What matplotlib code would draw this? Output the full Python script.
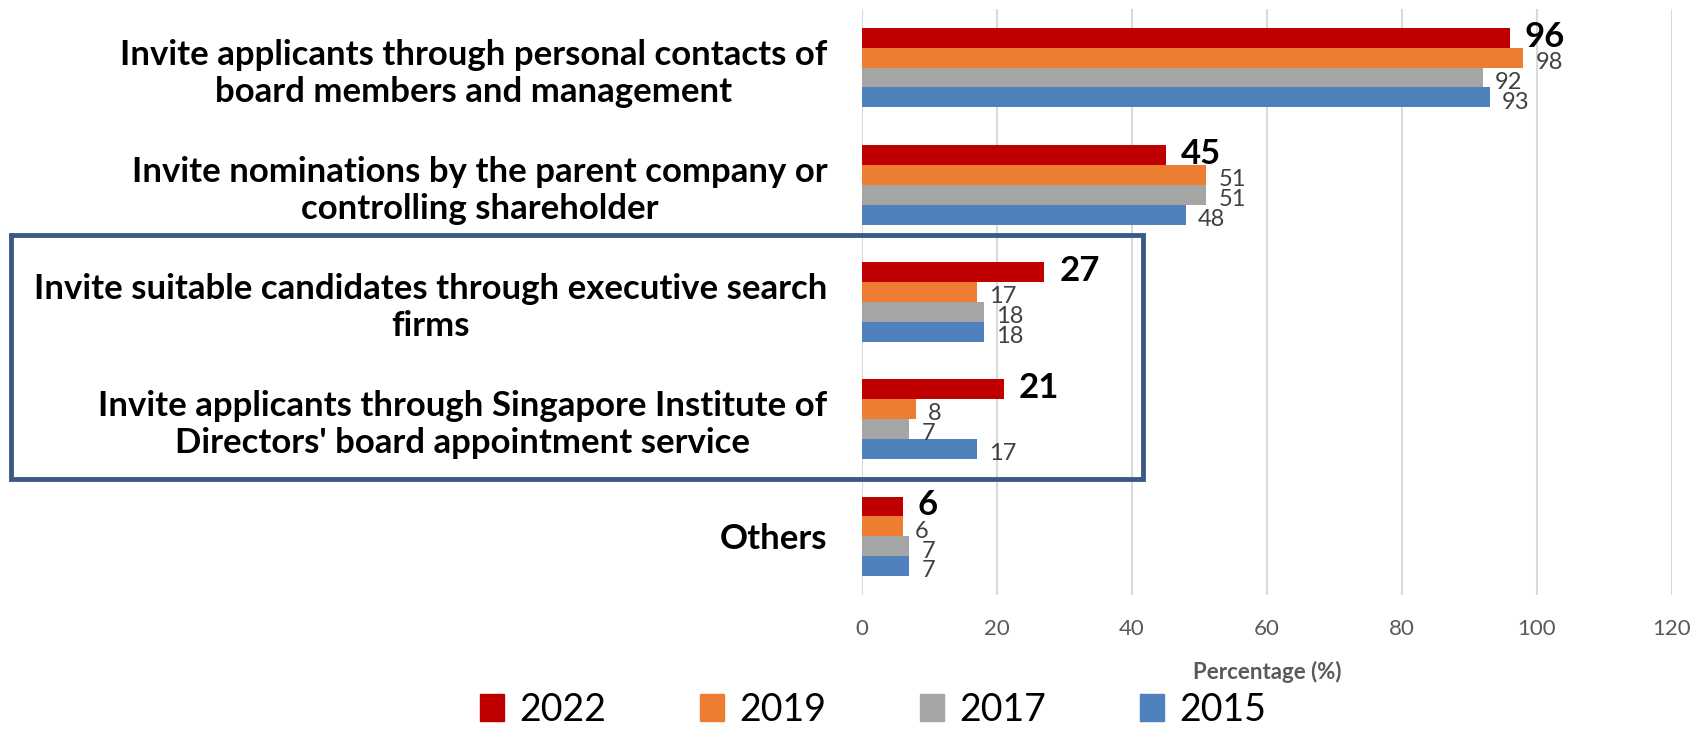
import numpy as np
import matplotlib.pyplot as plt
from matplotlib.patches import Rectangle, Patch

plt.rcParams['font.family'] = ['Lato', 'DejaVu Sans']

# data
categories = [
    "Invite applicants through personal contacts of\nboard members and management",
    "Invite nominations by the parent company or\ncontrolling shareholder",
    "Invite suitable candidates through executive search\nfirms",
    "Invite applicants through Singapore Institute of\nDirectors' board appointment service",
    "Others",
]
years = ["2022", "2019", "2017", "2015"]
v2022 = [96, 45, 27, 21, 6]
v2019 = [98, 51, 17, 8, 6]
v2017 = [92, 51, 18, 7, 7]
v2015 = [93, 48, 18, 17, 7]
colors = ["#C00000", "#ED7D31", "#A5A5A5", "#4F81BD"]

series = [v2022, v2019, v2017, v2015]

fig = plt.figure(figsize=(16.95, 7.3), dpi=100)
ax = fig.add_axes([0.5086, 0.185, 0.4778, 0.8027])

y = np.arange(len(categories))
h = 0.17
for i, (vals, col) in enumerate(zip(series, colors)):
    pos = y - 1.5 * h + i * h
    ax.barh(pos, vals, height=h, color=col, zorder=3)
    for p, v in zip(pos, vals):
        if i == 0:
            # 2022 values highlighted
            ax.text(v + 2.2, p - 0.01, str(v), va="center", ha="left",
                    fontsize=25, fontweight="bold", color="black", zorder=4)
        else:
            ax.text(v + 1.8, p + 0.04, str(v), va="center", ha="left",
                    fontsize=17, color="#404040", zorder=4)

ax.set_xlim(0, 120)
ax.set_ylim(4.5, -0.5)
ax.set_xticks(np.arange(0, 121, 20))
ax.set_yticks(y)
ax.set_yticklabels(categories, fontsize=25, fontweight="bold", multialignment="center")
ax.tick_params(axis="y", length=0, pad=25)
ax.tick_params(axis="x", length=0, labelsize=16, labelcolor="#595959", pad=17)
ax.grid(axis="x", color="#D9D9D9", linewidth=1.5, zorder=0)
for s in ax.spines.values():
    s.set_visible(False)
ax.set_xlabel("Percentage (%)", fontsize=16, fontweight="bold", color="#595959", labelpad=16)

# highlight box
fig.patches.append(Rectangle((0.0065, 0.344), 0.668, 0.334, transform=fig.transFigure,
                             fill=False, edgecolor="#3A5A85", linewidth=3.5))

handles = [Patch(color=c) for c in colors]
fig.legend(handles, years, loc="center", bbox_to_anchor=(0.515, 0.028), ncol=4,
           frameon=False, fontsize=27, handlelength=0.65, handleheight=0.75,
           handletextpad=0.4, columnspacing=2.5, borderpad=0)

fig.savefig("out.png", dpi=100)
